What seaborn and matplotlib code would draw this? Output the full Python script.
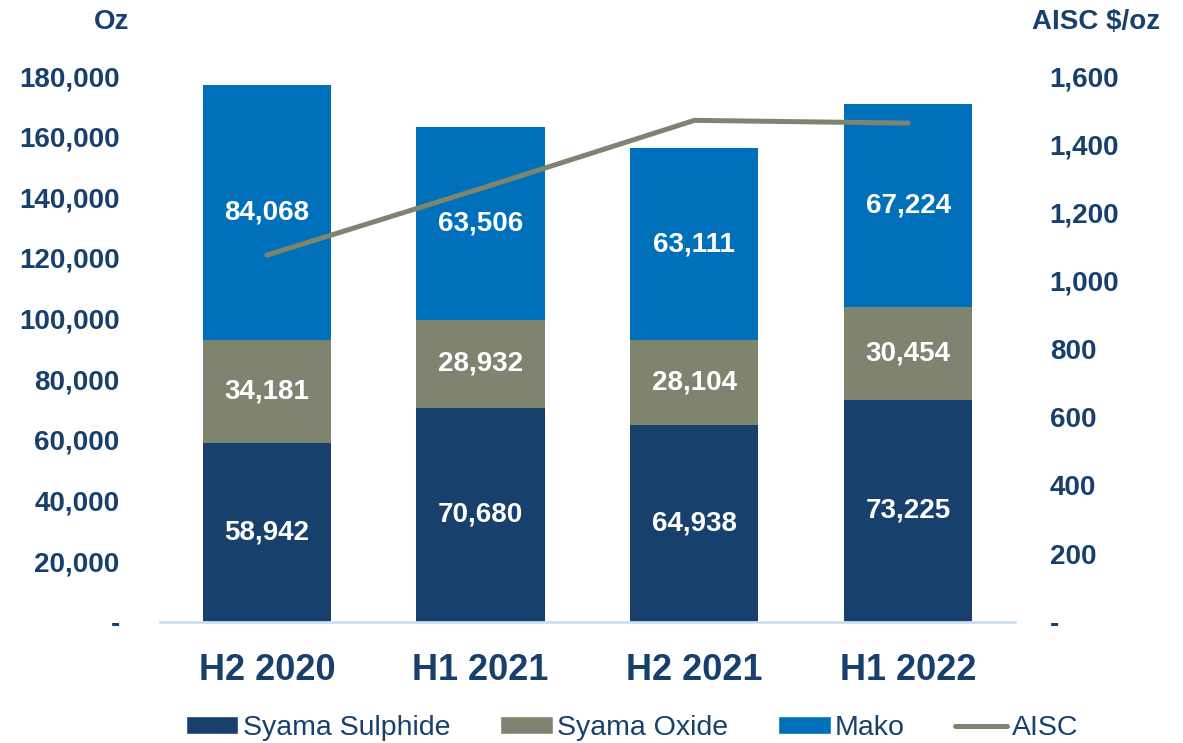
import numpy as np
import pandas as pd
from matplotlib import pyplot as plt
from matplotlib.patches import Patch
from matplotlib.lines import Line2D
from matplotlib.ticker import FuncFormatter
import seaborn as sns

# ------------------------------------------------------------
# chart data
# ------------------------------------------------------------
periods = ['H2 2020', 'H1 2021', 'H2 2021', 'H1 2022']
syama_sulphide = [58942, 70680, 64938, 73225]
syama_oxide = [34181, 28932, 28104, 30454]
mako = [84068, 63506, 63111, 67224]
aisc = [1075, 1270, 1470, 1462]

left_ticks = list(range(0, 180001, 20000))
right_ticks = list(range(0, 1601, 200))

NAVY = '#17406D'
OLIVE = '#7F8470'
BLUE = '#0070BA'
BASELINE = '#CCDFF2'
FONT = 'Liberation Sans'

sns.set_style('white')
plt.rcParams['font.family'] = [FONT, 'DejaVu Sans']

df = pd.DataFrame({
    'period': periods,
    'sulphide': syama_sulphide,
    'oxide': syama_oxide,
    'mako': mako,
    'aisc': aisc,
})
# cumulative heights so the series can be overplotted as a stack
df['lower2'] = df['sulphide'] + df['oxide']
df['total'] = df['lower2'] + df['mako']

fig = plt.figure(figsize=(11.83, 7.43), dpi=100)
ax = fig.add_axes([0.1352, 0.1629, 0.7228, 0.7348])

for col, colour in [('total', BLUE), ('lower2', OLIVE), ('sulphide', NAVY)]:
    sns.barplot(data=df, x='period', y=col, color=colour, width=0.6,
                saturation=1, linewidth=0, edgecolor='none', ax=ax, zorder=2)

# segment labels in the middle of each block
for i, row in df.iterrows():
    mids = [row['sulphide'] / 2,
            row['sulphide'] + row['oxide'] / 2,
            row['lower2'] + row['mako'] / 2]
    vals = [row['sulphide'], row['oxide'], row['mako']]
    for m, v in zip(mids, vals):
        ax.text(i, m, f'{v:,}', ha='center', va='center', color='white',
                fontsize=20, fontweight='bold', zorder=5)

ax.set_ylim(0, 180000)
ax.set_xlim(-0.5, len(periods) - 0.5)
ax.set_yticks(left_ticks)
ax.yaxis.set_major_formatter(FuncFormatter(lambda v, p: '-' if v == 0 else f'{int(v):,}'))
ax.set_xlabel('')
ax.set_ylabel('')
ax.tick_params(axis='y', length=0, pad=29, labelsize=20, labelcolor=NAVY)
ax.tick_params(axis='x', length=0, pad=22, labelsize=26, labelcolor=NAVY)
for lab in ax.get_yticklabels() + ax.get_xticklabels():
    lab.set_fontweight('bold')

for s in ['top', 'right', 'left']:
    ax.spines[s].set_visible(False)
ax.spines['bottom'].set_color(BASELINE)
ax.spines['bottom'].set_linewidth(2)

# AISC on the secondary axis
ax2 = ax.twinx()
sns.lineplot(x=np.arange(len(df)), y=df['aisc'], color=OLIVE, linewidth=3.6,
             solid_capstyle='round', ax=ax2, zorder=4)
ax2.set_ylim(0, 1600)
ax2.set_yticks(right_ticks)
ax2.yaxis.set_major_formatter(FuncFormatter(lambda v, p: '-' if v == 0 else f'{int(v):,}'))
ax2.set_ylabel('')
ax2.tick_params(axis='y', length=0, pad=25, labelsize=20, labelcolor=NAVY)
for lab in ax2.get_yticklabels():
    lab.set_fontweight('bold')
for s in ax2.spines.values():
    s.set_visible(False)

fig.text(112 / 1183, 1 - 22 / 743, 'Oz', ha='center', va='center',
         fontsize=20, fontweight='bold', color=NAVY)
fig.text(1096 / 1183, 1 - 22 / 743, 'AISC $/oz', ha='center', va='center',
         fontsize=20, fontweight='bold', color=NAVY)

handles = [
    Patch(facecolor=NAVY, label='Syama Sulphide'),
    Patch(facecolor=OLIVE, label='Syama Oxide'),
    Patch(facecolor=BLUE, label='Mako'),
    Line2D([0], [0], color=OLIVE, linewidth=3.6, solid_capstyle='round', label='AISC'),
]
leg = fig.legend(handles=handles, loc='center', bbox_to_anchor=(632 / 1183, 1 - 728 / 743),
                 ncol=4, frameon=False, fontsize=20.5, handlelength=1.85, handleheight=0.55,
                 handletextpad=0.15, columnspacing=1.75)
for t in leg.get_texts():
    t.set_color(NAVY)

plt.savefig('out.png', dpi=100)
plt.close()
